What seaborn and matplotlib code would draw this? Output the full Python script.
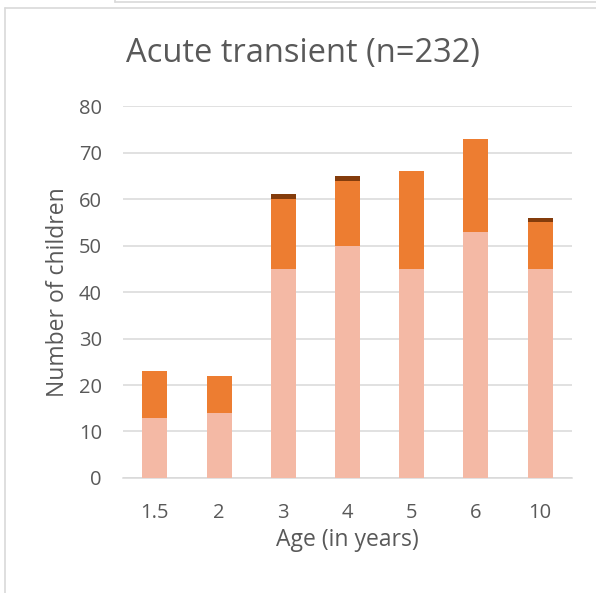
import matplotlib
matplotlib.use("Agg")
import matplotlib.pyplot as plt
import seaborn as sns
import numpy as np
import pandas as pd
from matplotlib.lines import Line2D

ages = ["1.5", "2", "3", "4", "5", "6", "10"]
seg_light = [13, 14, 45, 50, 45, 53, 45]
seg_mid = [10, 8, 15, 14, 21, 20, 10]
seg_dark = [0, 0, 1, 1, 0, 0, 1]

title = "Acute transient (n=232)"
xlabel = "Age (in years)"
ylabel = "Number of children"
yticks = [0, 10, 20, 30, 40, 50, 60, 70, 80]

c_light = "#F4B9A5"
c_mid = "#ED7D31"
c_dark = "#843C0C"
txt = "#595959"

sns.set_style("white")
plt.rcParams["font.family"] = ["Open Sans", "DejaVu Sans"]

lvl1 = np.array(seg_light)
lvl2 = lvl1 + np.array(seg_mid)
lvl3 = lvl2 + np.array(seg_dark)
df = pd.DataFrame({"age": ages, "l1": lvl1, "l2": lvl2, "l3": lvl3})

fig = plt.figure(figsize=(5.96, 5.93), dpi=100)
ax = fig.add_axes([0.206, 0.194, 0.754, 0.627])

for col, color in [("l3", c_dark), ("l2", c_mid), ("l1", c_light)]:
    sns.barplot(data=df, x="age", y=col, color=color, width=0.39,
                saturation=1, ax=ax, zorder=3, linewidth=0, order=ages)

ax.set_ylim(0, 80)
ax.set_xlim(-0.5, 6.5)
ax.set_yticks(yticks)
ax.yaxis.grid(True, color="#D9D9D9", linewidth=1.1, zorder=0)
ax.xaxis.grid(False)
for s in ["top", "right", "left"]:
    ax.spines[s].set_visible(False)
ax.spines["bottom"].set_color("#D9D9D9")
ax.spines["bottom"].set_linewidth(1.1)
ax.tick_params(axis="both", length=0, labelsize=14.5, colors=txt)
ax.tick_params(axis="x", pad=18)
ax.tick_params(axis="y", pad=15)
ax.set_xlabel(xlabel, fontsize=16.5, color=txt, va="center")
ax.set_ylabel(ylabel, fontsize=16.5, color=txt, va="center")
ax.xaxis.set_label_coords(0.5, -0.166)
ax.yaxis.set_label_coords(-0.145, 0.5)
fig.text(0.5075, 0.91, title, ha="center", va="center", fontsize=23.5, color=txt)

# chart frame borders
W, H = 596, 593
fig.add_artist(Line2D([5 / W, 5 / W], [0, 1 - 8 / H], transform=fig.transFigure, color="#D9D9D9", lw=1.2))
fig.add_artist(Line2D([5 / W, 1], [1 - 8 / H, 1 - 8 / H], transform=fig.transFigure, color="#D9D9D9", lw=1.2))
fig.add_artist(Line2D([115 / W, 1], [1 - 1.5 / H, 1 - 1.5 / H], transform=fig.transFigure, color="#D9D9D9", lw=1.2))
fig.add_artist(Line2D([115 / W, 115 / W], [1 - 1.5 / H, 1], transform=fig.transFigure, color="#D9D9D9", lw=1.2))

fig.savefig("out.png", dpi=100)
